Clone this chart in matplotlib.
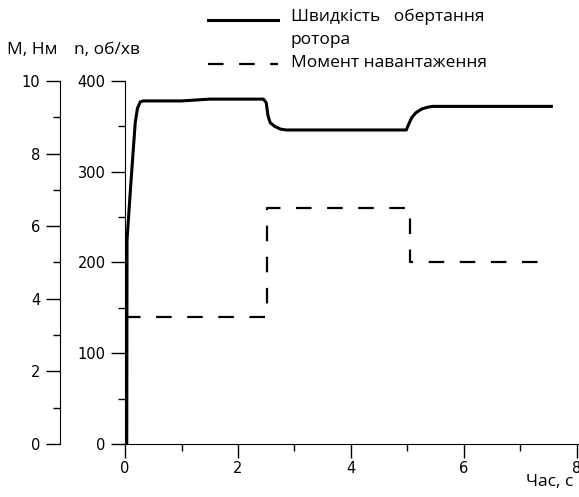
import numpy as np
import matplotlib.pyplot as plt
from matplotlib.ticker import MultipleLocator
from matplotlib.lines import Line2D

## the data
# rotor speed, об/хв
t_speed = [0, 0.03, 0.035, 0.1, 0.18, 0.22, 0.27, 0.32, 0.6, 1.0, 1.5, 2.0, 2.45,
           2.5, 2.53, 2.57, 2.65, 2.75, 2.85, 3.5, 4.0, 4.5, 4.98,
           5.02, 5.08, 5.15, 5.25, 5.35, 5.45, 6.0, 7.0, 7.55]
speed = [0, 0, 225, 285, 354, 370, 377, 378, 378, 378, 380, 380, 380,
         376, 362, 354, 350, 347, 346, 346, 346, 346, 346,
         352, 360, 365, 369, 371, 372, 372, 372, 372]
# load torque, Нм
t_load = [0, 2.52, 2.52, 5.05, 5.05, 7.5]
load = [3.5, 3.5, 6.5, 6.5, 5.0, 5.0]

fig = plt.figure(figsize=(5.79, 4.97), dpi=100)
ax = fig.add_axes([0.216, 0.1066, 0.79, 0.7305])

ax.plot(t_speed, speed, color='black', lw=2.2, solid_joinstyle='round')
ax.set_xlim(0, 8.1)
ax.set_ylim(0, 400)
ax.set_xticks([0, 2, 4, 6, 8])
ax.xaxis.set_minor_locator(MultipleLocator(1))
ax.set_yticks([0, 100, 200, 300, 400])
ax.yaxis.set_minor_locator(MultipleLocator(50))

# torque axis, moved to the left
ax2 = ax.twinx()
ax2.plot(t_load, load, color='black', lw=1.6, dashes=(7, 7))
ax2.set_ylim(0, 10)
ax2.set_yticks([0, 2, 4, 6, 8, 10])
ax2.yaxis.set_minor_locator(MultipleLocator(1))
ax2.yaxis.tick_left()
ax2.spines['left'].set_position(('outward', 47))
ax2.spines['left'].set_visible(True)

for a in (ax, ax2):
    a.spines['top'].set_visible(False)
    a.spines['right'].set_visible(False)
    a.tick_params(which='major', length=10, width=1, labelsize=10.5, pad=4)
    a.tick_params(which='minor', length=5, width=1)
ax.tick_params(axis='x', which='major', pad=2)
ax2.spines['bottom'].set_visible(False)

lab_font = dict(family='Open Sans', fontsize=12.5)
fig.text(0.012, 0.9, 'M, Нм', **lab_font, va='center')
fig.text(0.128, 0.9, 'n, об/хв', **lab_font, va='center')
fig.text(0.908, 0.03, 'Час, с', **lab_font, va='center')

## the legend
fig.add_artist(Line2D([0.36, 0.48], [0.96, 0.96], color='black', lw=2.2,
                      transform=fig.transFigure))
fig.add_artist(Line2D([0.36, 0.48], [0.871, 0.871], color='black', lw=1.6,
                      dashes=(7, 7), transform=fig.transFigure))
fig.text(0.502, 0.966, 'Швидкість   обертання', **lab_font, va='center')
fig.text(0.502, 0.92, 'ротора', **lab_font, va='center')
fig.text(0.502, 0.873, 'Момент навантаження', **lab_font, va='center')

fig.savefig('out.png', dpi=100)
